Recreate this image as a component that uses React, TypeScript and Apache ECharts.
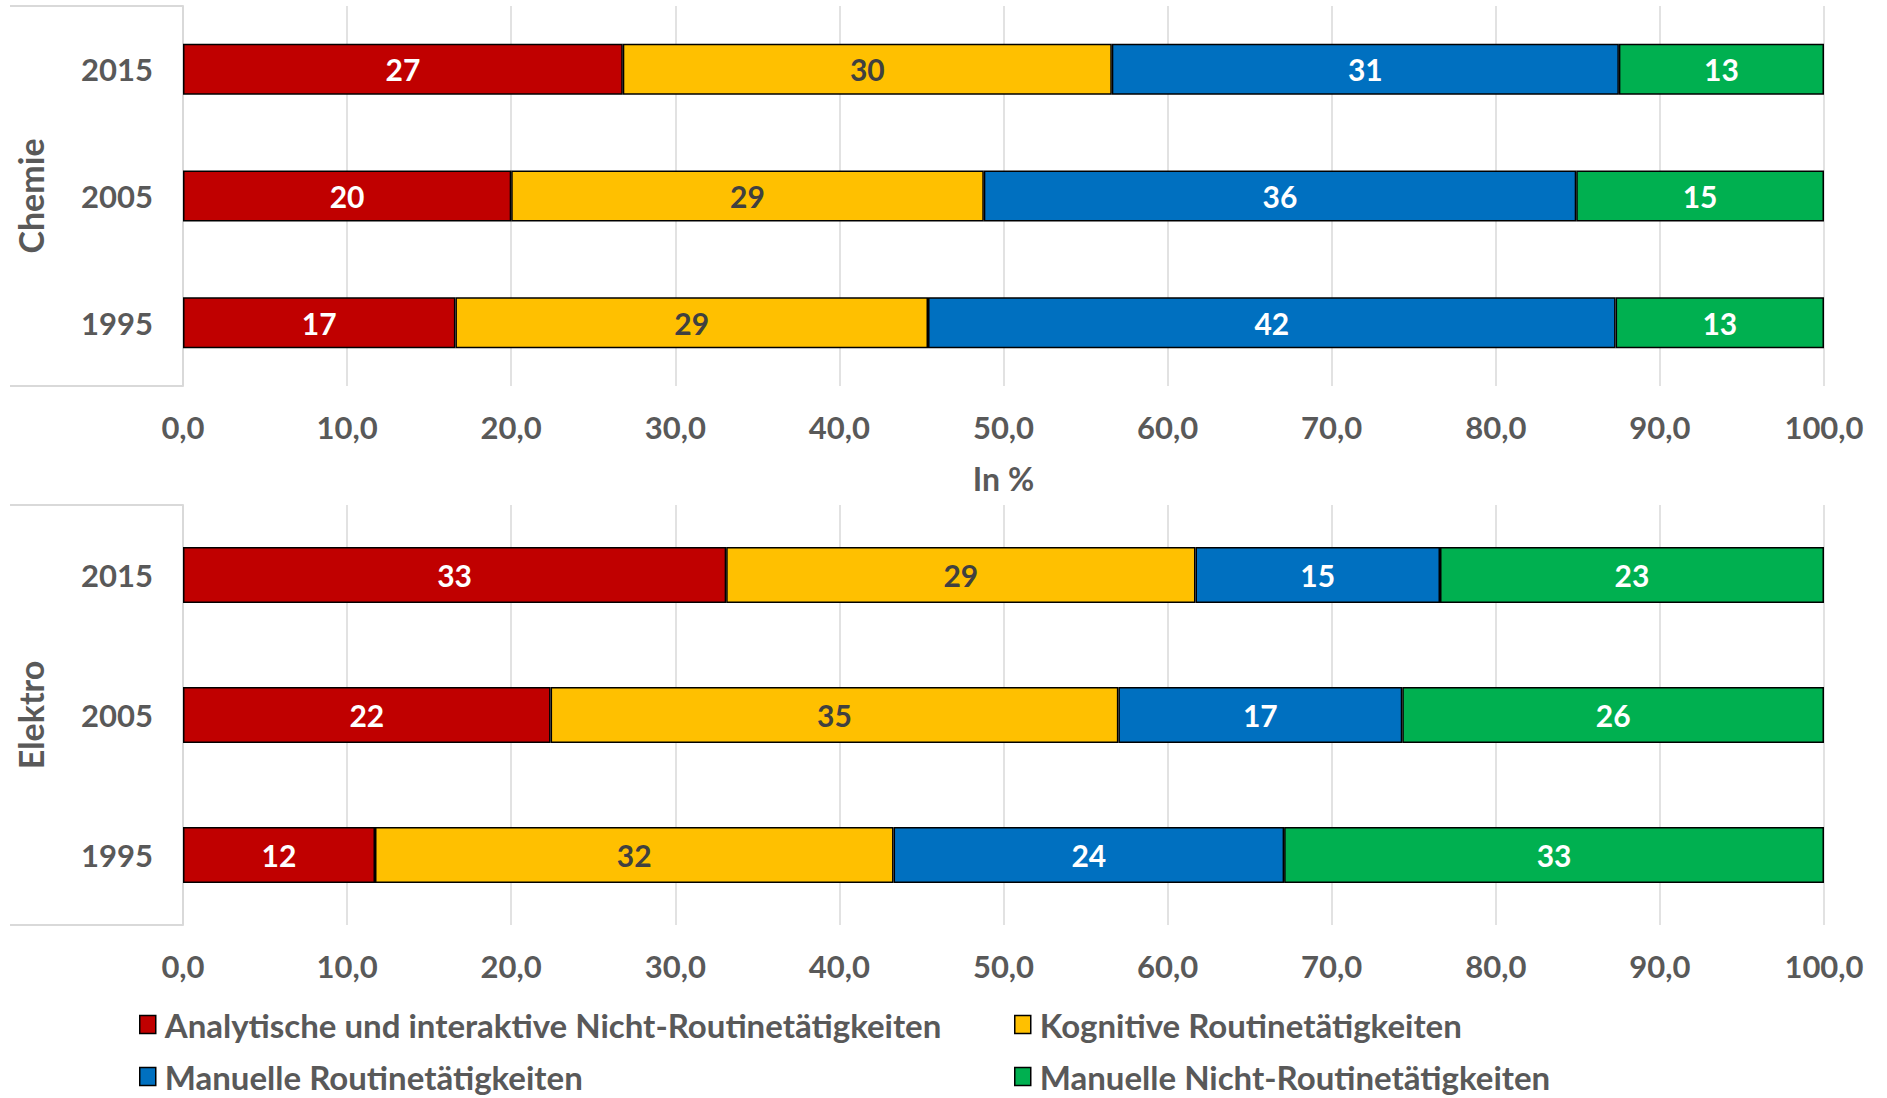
import React, { useEffect, useRef } from "react";
import * as echarts from "echarts";

const years = ["1995", "2005", "2015"];
const seriesNames = [
  "Analytische und interaktive Nicht-Routinetätigkeiten",
  "Kognitive Routinetätigkeiten",
  "Manuelle Routinetätigkeiten",
  "Manuelle Nicht-Routinetätigkeiten",
];
const colors = ["#C00000", "#FFC000", "#0070C0", "#00B050"];
const labelColors = ["#FFFFFF", "#404040", "#FFFFFF", "#FFFFFF"];

// order: 1995, 2005, 2015
const chemieAnalytisch = [16.6, 20.0, 26.8];
const chemieKognitiv = [28.8, 28.8, 29.8];
const chemieManuellRoutine = [41.9, 36.1, 30.9];
const chemieManuellNicht = [12.7, 15.1, 12.5];

const elektroAnalytisch = [11.7, 22.4, 33.1];
const elektroKognitiv = [31.6, 34.6, 28.6];
const elektroManuellRoutine = [23.8, 17.3, 14.9];
const elektroManuellNicht = [32.9, 25.7, 23.4];

const xTicks = [0, 10, 20, 30, 40, 50, 60, 70, 80, 90, 100];

const FONT = "Lato";
const AXIS_GRAY = "#595959";
const GRID_GRAY = "#D9D9D9";

export default function App() {
  const ref = useRef<HTMLDivElement>(null);
  useEffect(() => {
    if (!ref.current) return;
    const chart = echarts.init(ref.current, undefined, { renderer: "svg" });
    const chemie = [chemieAnalytisch, chemieKognitiv, chemieManuellRoutine, chemieManuellNicht];
    const elektro = [elektroAnalytisch, elektroKognitiv, elektroManuellRoutine, elektroManuellNicht];

    const mkSeries = (data: number[][], gi: number, barWidth: number) =>
      data.map((vals, i) => ({
        name: seriesNames[i],
        type: "bar",
        stack: "s" + gi,
        xAxisIndex: gi,
        yAxisIndex: gi,
        barWidth,
        data: vals,
        itemStyle: { color: colors[i], borderColor: "#000000", borderWidth: 1.5 },
        label: {
          show: true,
          position: "inside",
          color: labelColors[i],
          fontFamily: FONT,
          fontWeight: "bold",
          fontSize: 30,
          formatter: (p: any) => String(Math.round(p.value)),
        },
      }));

    const xAxisCommon = (gi: number, name?: string) => ({
      type: "value",
      gridIndex: gi,
      min: xTicks[0],
      max: xTicks[xTicks.length - 1],
      interval: 10,
      name: name || "",
      nameLocation: "middle",
      nameGap: 76,
      nameTextStyle: { color: AXIS_GRAY, fontFamily: FONT, fontWeight: "bold", fontSize: 32 },
      axisLine: { show: false },
      axisTick: { show: false },
      splitLine: { show: true, lineStyle: { color: GRID_GRAY, width: 1.5 } },
      axisLabel: {
        color: AXIS_GRAY,
        fontFamily: FONT,
        fontWeight: "bold",
        fontSize: 31,
        margin: 25,
        formatter: (v: number) => v.toFixed(1).replace(".", ","),
      },
    });

    const yAxisCommon = (gi: number, name: string) => ({
      type: "category",
      gridIndex: gi,
      data: years,
      name,
      nameLocation: "middle",
      nameRotate: 90,
      nameGap: 136,
      nameTextStyle: { color: AXIS_GRAY, fontFamily: FONT, fontWeight: "bold", fontSize: 34 },
      axisLine: { show: true, lineStyle: { color: GRID_GRAY, width: 2 } },
      axisTick: { show: false },
      axisLabel: {
        color: AXIS_GRAY,
        fontFamily: FONT,
        fontWeight: "bold",
        fontSize: 31,
        margin: 30,
      },
    });

    const boxLine = (y: number) => ({
      type: "line",
      shape: { x1: 10, y1: y, x2: 183, y2: y },
      style: { stroke: GRID_GRAY, lineWidth: 2 },
    });

    const legendCommon = {
      orient: "vertical",
      top: 1008,
      height: 120,
      width: 860,
      padding: 0,
      itemWidth: 16,
      itemHeight: 18,
      itemGap: 19,
      icon: "rect",
      selectedMode: false,
      itemStyle: { borderColor: "#000000", borderWidth: 1.5 },
      textStyle: {
        color: AXIS_GRAY,
        fontFamily: FONT,
        fontWeight: "bold",
        fontSize: 33,
        lineHeight: 32,
        padding: [0, 0, 0, 4],
      },
    };

    chart.setOption({
      animation: false,
      backgroundColor: "#FFFFFF",
      grid: [
        { left: 183, top: 6, width: 1641, height: 380 },
        { left: 183, top: 505, width: 1641, height: 420 },
      ],
      xAxis: [xAxisCommon(0, "In %"), xAxisCommon(1)],
      yAxis: [yAxisCommon(0, "Chemie"), yAxisCommon(1, "Elektro")],
      legend: [
        { ...legendCommon, data: [seriesNames[0], seriesNames[2]], left: 139 },
        { ...legendCommon, data: [seriesNames[1], seriesNames[3]], left: 1014 },
      ],
      graphic: [boxLine(6), boxLine(386), boxLine(505), boxLine(925)],
      series: [...mkSeries(chemie, 0, 51), ...mkSeries(elektro, 1, 56)],
    });
    return () => chart.dispose();
  }, []);
  return (
    <div
      ref={ref}
      style={{ position: "fixed", left: 0, top: 0, width: 1887, height: 1098, background: "#fff" }}
    />
  );
}
